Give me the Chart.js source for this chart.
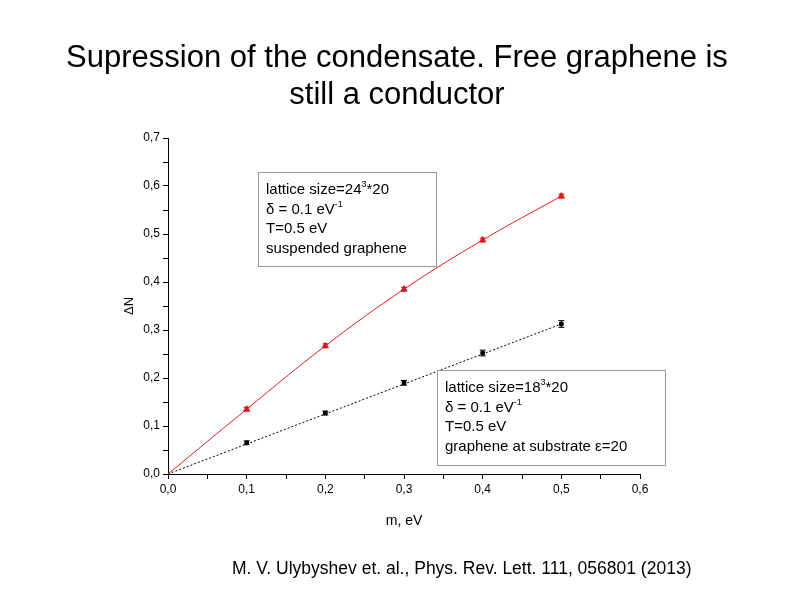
<!DOCTYPE html>
<html><head><meta charset="utf-8">
<script src="https://cdn.jsdelivr.net/npm/chart.js@4"></script>
<style>
body{margin:0;width:794px;height:595px;background:#fff;overflow:hidden;font-family:"Liberation Sans",Arial,sans-serif;position:relative}
#t{position:absolute;top:38px;left:0;width:794px;text-align:center;font-size:31px;line-height:37px;color:#000}
#ref{position:absolute;top:558px;left:232px;font-size:17.5px;color:#000}
#c{position:absolute;left:0;top:0}
</style></head><body>
<canvas id="c" width="794" height="595"></canvas>
<div id="t">Supression of the condensate. Free graphene is<br>still a conductor</div>
<div id="ref">M. V. Ulybyshev et. al., Phys. Rev. Lett. 111, 056801 (2013)</div>
<script>
const masses=[0.1,0.2,0.3,0.4,0.5];
const suspended=[0.135,0.267,0.385,0.4875,0.579];
const suspendedErr=[0.004,0.004,0.004,0.004,0.004];
const substrate=[0.065,0.127,0.19,0.252,0.3125];
const substrateErr=[0.004,0.004,0.005,0.006,0.007];
const fitX=[0,0.1,0.2,0.3,0.4,0.5];
const fitRed=[0,0.135,0.267,0.385,0.4875,0.579];
const fitBlack=[0,0.0625,0.125,0.1875,0.25,0.3125];
const xy=(xs,ys)=>xs.map((x,i)=>({x,y:ys[i]}));
const errPlugin={id:'err',afterDatasetsDraw(ch){
  const c=ch.ctx,xs=ch.scales.x,ys=ch.scales.y;
  [[suspended,suspendedErr,'#d01010'],[substrate,substrateErr,'#000']].forEach(([v,e,col])=>{
    c.save();c.strokeStyle=col;c.lineWidth=1;
    masses.forEach((m,i)=>{const px=xs.getPixelForValue(m),t=ys.getPixelForValue(v[i]+e[i]),b=ys.getPixelForValue(v[i]-e[i]);
      c.beginPath();c.moveTo(px,t);c.lineTo(px,b);c.moveTo(px-3,t);c.lineTo(px+3,t);c.moveTo(px-3,b);c.lineTo(px+3,b);c.stroke();});
    c.restore();});
  function box(x,y,w,h,lines){c.save();c.fillStyle='#fff';c.fillRect(x,y,w,h);c.strokeStyle='#999';c.lineWidth=1;c.strokeRect(x+.5,y+.5,w,h);
    c.fillStyle='#000';c.font='15px "Liberation Sans",Arial';c.textBaseline='alphabetic';
    lines.forEach((l,i)=>{c.fillText(l[0],x+8,y+22+i*19.5);if(l[1]){const wd=c.measureText(l[0]).width;c.font='9px "Liberation Sans",Arial';c.fillText(l[1],x+8+wd,y+15+i*19.5);const w2=c.measureText(l[1]).width;c.font='15px "Liberation Sans",Arial';c.fillText(l[2]||'',x+8+wd+w2,y+22+i*19.5);}});
    c.restore();}
  box(258,172,178,94,[['lattice size=24','3','*20'],['δ = 0.1 eV','-1',''],['T=0.5 eV'],['suspended graphene']]);
  box(437,370,228,95,[['lattice size=18','3','*20'],['δ = 0.1 eV','-1',''],['T=0.5 eV'],['graphene at substrate ε=20']]);
}};
new Chart(document.getElementById('c'),{type:'scatter',
 data:{datasets:[
  {data:xy(fitX,fitRed),showLine:true,borderColor:'#e02020',borderWidth:1,tension:0.4,pointRadius:0},
  {data:xy(fitX,fitBlack),showLine:true,borderColor:'#000',borderWidth:1,borderDash:[2,2],pointRadius:0},
  {data:xy(masses,suspended),pointStyle:'triangle',pointRadius:3.5,backgroundColor:'#e02020',borderColor:'#e02020'},
  {data:xy(masses,substrate),pointStyle:'rect',pointRadius:2.5,backgroundColor:'#000',borderColor:'#000'}]},
 options:{responsive:false,animation:false,events:[],
  layout:{padding:{left:118,right:154,top:138,bottom:61}},
  plugins:{legend:{display:false},tooltip:{enabled:false}},
  scales:{
   x:{min:0,max:0.6,afterFit(s){s.height=60;},border:{color:'#000'},
      grid:{drawOnChartArea:false,color:'#000',tickLength:5},
      ticks:{stepSize:0.05,color:'#000',font:{size:12,family:'"Liberation Sans",Arial'},callback:v=>Math.round(v*100)%10===0?v.toFixed(1).replace('.',','):''},
      title:{display:true,text:'m, eV',color:'#000',font:{size:14,family:'"Liberation Sans",Arial'},padding:{top:4}}},
   y:{min:0,max:0.7,afterFit(s){s.width=50;},border:{color:'#000'},
      grid:{drawOnChartArea:false,color:'#000',tickLength:5},
      ticks:{stepSize:0.05,color:'#000',font:{size:12,family:'"Liberation Sans",Arial'},callback:v=>Math.round(v*100)%10===0?v.toFixed(1).replace('.',','):''},
      title:{display:true,text:'ΔN',color:'#000',font:{size:13,family:'"Liberation Sans",Arial'}}}}},
 plugins:[errPlugin]});
</script></body></html>
